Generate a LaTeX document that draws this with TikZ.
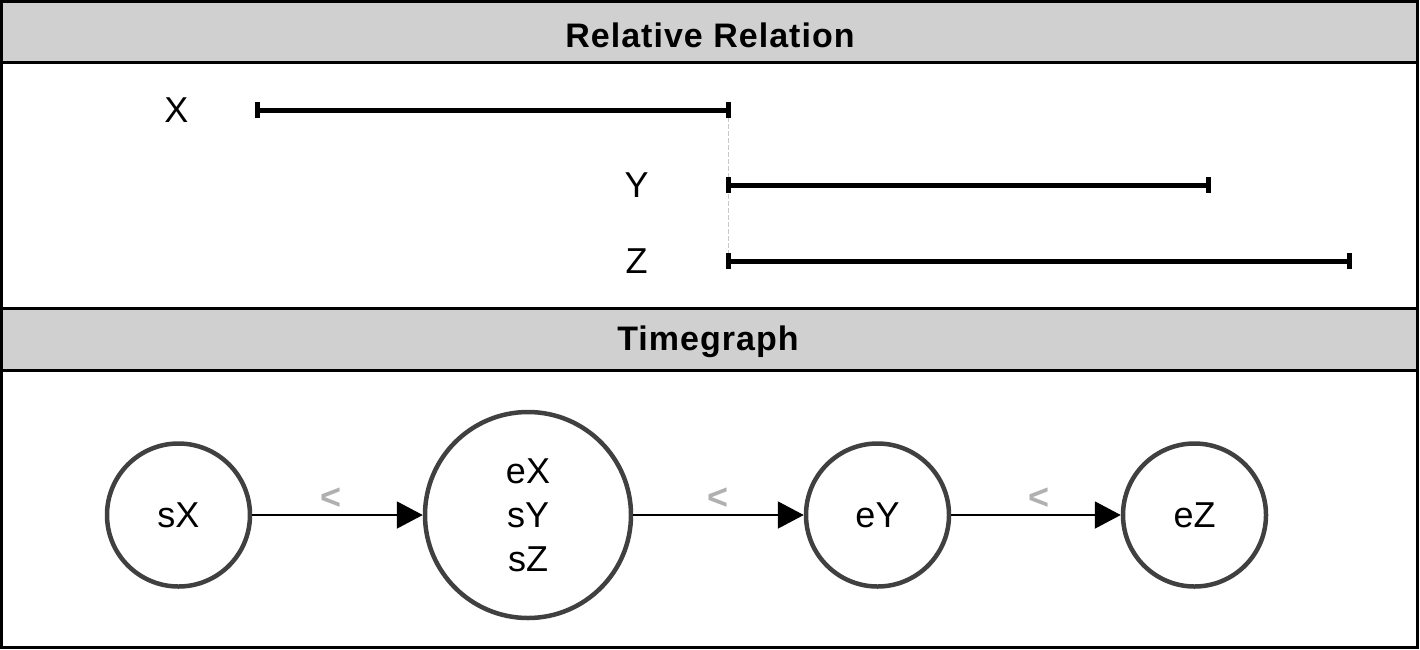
\documentclass[tikz,border=0pt]{standalone}
\usepackage{fontspec}
\setmainfont{Liberation Sans}
\newfontfamily\headfont{Liberation Sans}[LetterSpace=3]
\usetikzlibrary{arrows.meta}
\usetikzlibrary{positioning}
\definecolor{headgray}{HTML}{D0D0D0}
\definecolor{ringgray}{HTML}{404040}
\definecolor{relgray}{HTML}{B0B0B0}
\definecolor{dashgray}{HTML}{C8C8C8}
\tikzstyle{head}=[font=\headfont\bfseries\fontsize{34}{40}\selectfont, inner sep=0pt]
\tikzstyle{lbl}=[font=\fontsize{36}{44}\selectfont, inner sep=0pt]
\tikzstyle{span}=[line width=5pt, {Bar[width=16pt]}-{Bar[width=16pt]}]
\tikzstyle{ev}=[draw=ringgray, line width=4.5pt, circle, inner sep=0pt, minimum size=143pt,
  align=center, font=\fontsize{36}{44}\selectfont]
\tikzstyle{rel}=[line width=2pt, -{Triangle[length=26pt,width=27pt]}]
\tikzstyle{lt}=[text=relgray, font=\bfseries\fontsize{36}{44}\selectfont, inner sep=0pt, yshift=16pt]

\begin{document}
\begin{tikzpicture}[x=1pt, y=-1pt]
      \useasboundingbox (0,0) rectangle (1420,649);
      % header bars
      \fill [headgray] (1.5,1.5) rectangle (1417.5,62.5);
      \fill [headgray] (1.5,308.5) rectangle (1417.5,370.5);
      \draw [line width=3pt] (1.5,1.5) rectangle (1417.5,647.5);
      \draw [line width=3pt] (1.5,62.5) -- (1417.5,62.5);
      \draw [line width=3pt] (1.5,308.5) -- (1417.5,308.5);
      \draw [line width=3pt] (1.5,370.5) -- (1417.5,370.5);
      \node [head] (relhead) at (710,35) {Relative Relation};
      \node [head] (tghead) at (708,342) {Timegraph};

      % relative relation
      \node [lbl] (X) at (176.5,110) {X};
      \node [lbl] (Y) at (636.5,185) {Y};
      \node [lbl] (Z) at (636.5,261) {Z};
      \coordinate (xs) at (254.5,110);
      \coordinate (xe) at (731,110);
      \coordinate (ys) at (726,185);
      \coordinate (ye) at (1210.5,185);
      \coordinate (zs) at (726,261);
      \coordinate (ze) at (1352,261);
      \draw [dashgray, line width=1.5pt, dash pattern=on 5pt off 2pt]
        ([xshift=-2.5pt]xe) -- ([xshift=2.5pt]zs);
      \draw [span] (xs) -- (xe);
      \draw [span] (ys) -- (ye);
      \draw [span] (zs) -- (ze);

      % timegraph
      \node [ev] (sX) at (178.5,515) {sX};
      \node [ev, minimum size=206pt] (mid) at (528,515) {eX\\sY\\sZ};
      \node [ev] (eY) at (877.5,515) {eY};
      \node [ev] (eZ) at (1194.5,515) {eZ};

      \draw [rel] (sX) -- node [lt, xshift=-6pt] {<} (mid);
      \draw [rel] (mid) -- node [lt] {<} (eY);
      \draw [rel] (eY) -- node [lt, xshift=3pt] {<} (eZ);
    \end{tikzpicture}
\end{document}
